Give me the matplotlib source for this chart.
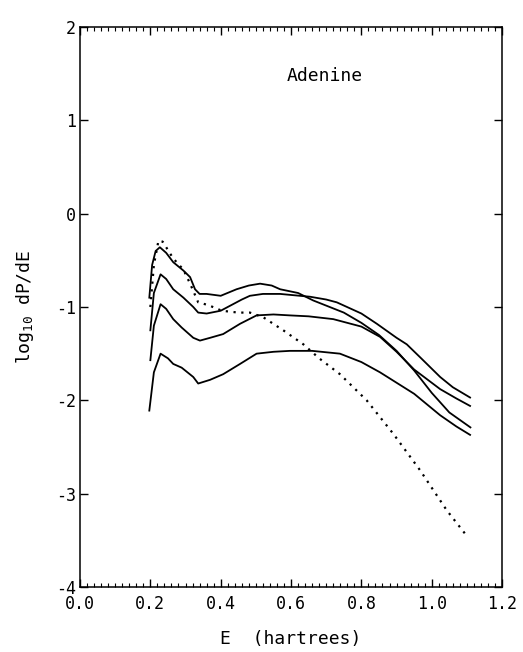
import numpy as np
import matplotlib
matplotlib.use("Agg")
import matplotlib.pyplot as plt
from matplotlib.ticker import MultipleLocator, FormatStrFormatter

plt.rcParams['font.family'] = ['DejaVu Sans Mono', 'DejaVu Sans']

# curves (E in hartrees, log10 dP/dE)
a_x = [0.197, 0.205, 0.215, 0.227, 0.245, 0.265, 0.294, 0.313, 0.327, 0.340, 0.36, 0.40, 0.445,
       0.48, 0.512, 0.545, 0.569, 0.62, 0.663, 0.75, 0.80, 0.85, 0.90, 0.95, 1.00, 1.05, 1.11]
a_y = [-0.90, -0.55, -0.40, -0.36, -0.42, -0.52, -0.61, -0.68, -0.81, -0.86, -0.86, -0.88, -0.81,
       -0.77, -0.75, -0.77, -0.81, -0.85, -0.93, -1.06, -1.17, -1.30, -1.47, -1.68, -1.92, -2.13, -2.29]

b_x = [0.20, 0.21, 0.229, 0.245, 0.265, 0.294, 0.322, 0.336, 0.36, 0.40, 0.43, 0.46, 0.483, 0.52,
       0.569, 0.625, 0.654, 0.70, 0.73, 0.80, 0.844, 0.90, 0.929, 0.97, 1.024, 1.06, 1.109]
b_y = [-1.25, -0.85, -0.65, -0.70, -0.81, -0.90, -1.00, -1.06, -1.07, -1.04, -0.98, -0.92, -0.88, -0.86,
       -0.86, -0.88, -0.89, -0.92, -0.95, -1.07, -1.18, -1.33, -1.40, -1.55, -1.75, -1.86, -1.97]

c_x = [0.20, 0.21, 0.229, 0.245, 0.265, 0.289, 0.322, 0.341, 0.37, 0.407, 0.455, 0.502, 0.55, 0.597,
       0.65, 0.72, 0.80, 0.853, 0.90, 0.95, 1.024, 1.07, 1.109]
c_y = [-1.57, -1.20, -0.97, -1.02, -1.13, -1.22, -1.33, -1.36, -1.33, -1.29, -1.18, -1.09, -1.08, -1.09,
       -1.10, -1.13, -1.21, -1.32, -1.48, -1.67, -1.88, -1.98, -2.06]

d_x = [0.197, 0.21, 0.229, 0.25, 0.265, 0.289, 0.322, 0.336, 0.37, 0.407, 0.455, 0.502, 0.55, 0.597,
       0.66, 0.739, 0.80, 0.853, 0.95, 1.024, 1.07, 1.109]
d_y = [-2.11, -1.70, -1.50, -1.55, -1.61, -1.65, -1.75, -1.82, -1.78, -1.72, -1.61, -1.50, -1.48, -1.47,
       -1.47, -1.50, -1.59, -1.70, -1.93, -2.16, -2.28, -2.37]

dot_x = [0.20, 0.21, 0.223, 0.235, 0.265, 0.294, 0.313, 0.336, 0.365, 0.403, 0.45, 0.483, 0.521, 0.578,
         0.635, 0.68, 0.739, 0.815, 0.891, 0.967, 1.043, 1.095]
dot_y = [-1.00, -0.55, -0.29, -0.30, -0.48, -0.60, -0.75, -0.95, -0.98, -1.04, -1.06, -1.06, -1.11, -1.25,
         -1.40, -1.55, -1.72, -2.00, -2.36, -2.75, -3.18, -3.43]

fig = plt.figure(figsize=(5.23, 6.52), dpi=100)
ax = fig.add_axes([0.153, 0.0997, 0.807, 0.8589])

for xs, ys in [(a_x, a_y), (b_x, b_y), (c_x, c_y), (d_x, d_y)]:
    ax.plot(xs, ys, color='black', lw=1.3)
ax.plot(dot_x, dot_y, color='black', lw=1.6, linestyle=(0, (1, 2.5)))

ax.set_xlim(0, 1.2)
ax.set_ylim(-4, 2)
ax.xaxis.set_major_locator(MultipleLocator(0.2))
ax.xaxis.set_minor_locator(MultipleLocator(0.02))
ax.xaxis.set_major_formatter(FormatStrFormatter('%.1f'))
ax.yaxis.set_major_locator(MultipleLocator(1))
ax.yaxis.set_major_formatter(FormatStrFormatter('%d'))
ax.tick_params(axis='x', which='both', direction='in', top=True, bottom=True)
ax.tick_params(axis='y', which='both', direction='in', left=True, right=True)
ax.tick_params(which='major', length=6, width=1.0, labelsize=12)
ax.tick_params(which='minor', length=3, width=0.8)
ax.tick_params(axis='x', pad=6)
ax.tick_params(axis='y', pad=3)
for s in ax.spines.values():
    s.set_linewidth(1.1)

ax.text(0.697, 1.48, 'Adenine', fontsize=13, ha='center', va='center')
ax.set_xlabel('E  (hartrees)', fontsize=13, labelpad=12)
ax.set_ylabel('log$_{\\mathregular{10}}$ dP/dE', fontsize=13, labelpad=14)

fig.savefig('out.png', dpi=100)
